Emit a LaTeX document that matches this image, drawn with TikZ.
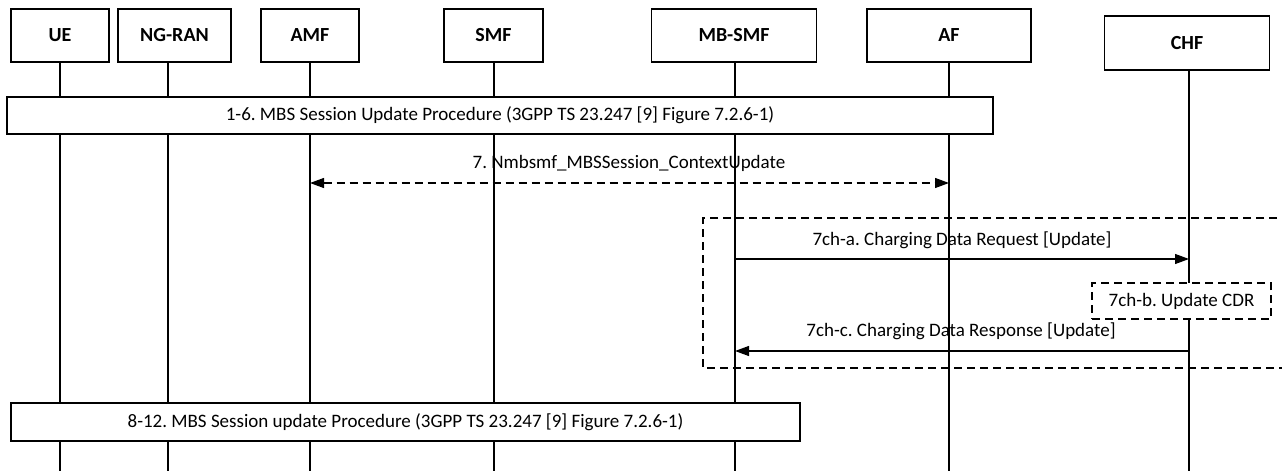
\documentclass[tikz,border=0pt]{standalone}
\usepackage{fontspec}
\setmainfont{Carlito}
\usetikzlibrary{arrows.meta,positioning}
\frenchspacing

\tikzset{
  entity/.style={draw,line width=1.2pt,fill=white,font=\fontsize{20}{24}\selectfont\bfseries,minimum height=53pt},
  proc/.style={draw,line width=1.2pt,fill=white,font=\fontsize{19}{23}\selectfont,minimum height=37pt},
  life/.style={line width=1.2pt},
  msg/.style={line width=1.2pt,-{Triangle[length=14pt,width=10pt]}},
  dashbox/.style={line width=1.2pt,dash pattern=on 8pt off 5pt},
  lbl/.style={font=\fontsize{19}{23}\selectfont}
}

\begin{document}
\begin{tikzpicture}[x=1pt,y=-1pt]
\useasboundingbox (0,0) rectangle (1282,471);

% participants
\node[entity,minimum width=98pt] (ue) at (60,35.5) {UE};
\node[entity,minimum width=113pt] (ngran) at (174.5,35.5) {NG-RAN};
\node[entity,minimum width=98pt] (amf) at (310,35.5) {AMF};
\node[entity,minimum width=99pt] (smf) at (493.5,35.5) {SMF};
\node[entity,minimum width=165pt] (mbsmf) at (734,35.5) {MB-SMF};
\node[entity,minimum width=164pt] (af) at (949,35.5) {AF};
\node[entity,minimum width=165pt,minimum height=54pt] (chf) at (1187,43) {CHF};

% lifelines
\coordinate (ueL) at (60,471);
\coordinate (ngranL) at (168,471);
\coordinate (amfL) at (310,471);
\coordinate (smfL) at (494,471);
\coordinate (mbsmfL) at (735,471);
\coordinate (afL) at (949,471);
\coordinate (chfL) at (1189,471);
\foreach \p in {ue,ngran,amf,smf,mbsmf,af,chf}
  \draw[life] (\p.south -| \p L) -- (\p L);

% step 1-6
\node[proc,minimum width=986pt] (p16) at (500,115.5)
  {1-6. MBS Session Update Procedure (3GPP TS 23.247 [9] Figure 7.2.6-1)};

% step 7
\coordinate (amf7) at (amfL |- 0,183);
\coordinate (af7) at (afL |- 0,183);
\draw[msg,{Triangle[length=14pt,width=10pt]}-{Triangle[length=14pt,width=10pt]},dash pattern=on 8pt off 5pt] (amf7) -- (af7);
\node[lbl] (l7) at (629,163) {7. Nmbsmf\_MBSSession\_ContextUpdate};

% charging block
\draw[dashbox] (1290,218) -- (703,218) -- (703,368) -- (1290,368);

\coordinate (mb7a) at (mbsmfL |- 0,259);
\coordinate (chf7a) at (chfL |- 0,259);
\draw[msg] (mb7a) -- (chf7a);
\node[lbl] (l7a) at (962,240) {7ch-a. Charging Data Request [Update]};

\node[proc,dashbox,minimum width=179pt,minimum height=36pt] (cdr) at (1181.5,301) {7ch-b. Update CDR};

\coordinate (chf7c) at (chfL |- 0,351);
\coordinate (mb7c) at (mbsmfL |- 0,351);
\draw[msg] (chf7c) -- (mb7c);
\node[lbl] (l7c) at (961,331) {7ch-c. Charging Data Response [Update]};

% step 8-12
\node[proc,minimum width=789pt,minimum height=38pt] (p812) at (405.5,422)
  {8-12. MBS Session update Procedure (3GPP TS 23.247 [9] Figure 7.2.6-1)};

\end{tikzpicture}
\end{document}
